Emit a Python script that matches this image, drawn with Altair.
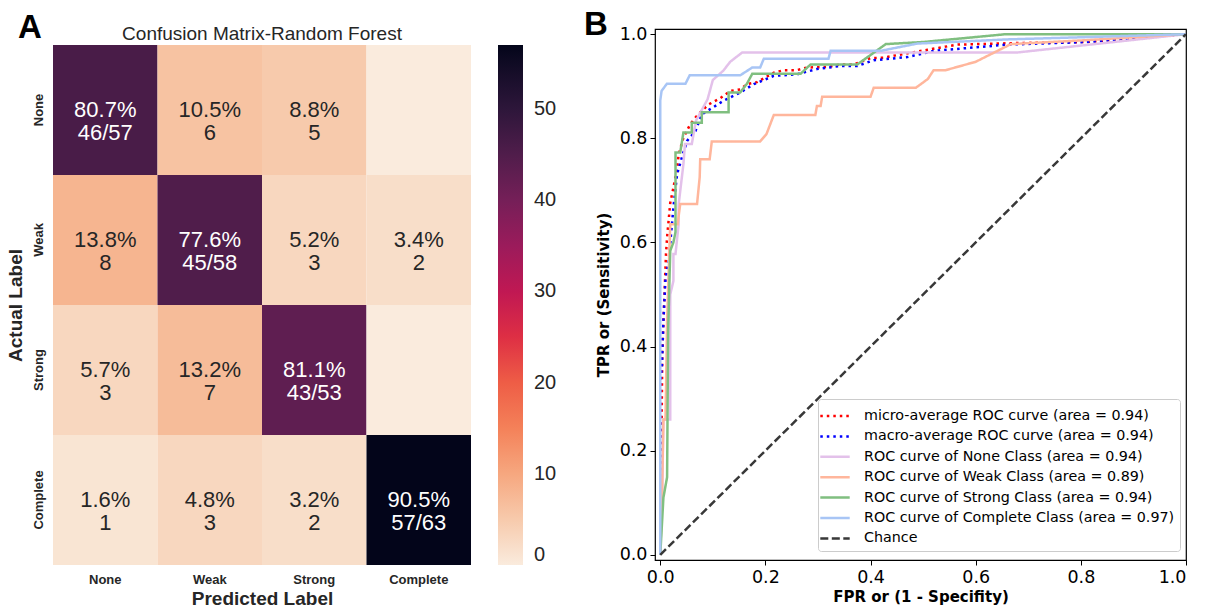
import altair as alt
import pandas as pd

# ---------------- Confusion matrix data ----------------
classes = ["None", "Weak", "Strong", "Complete"]
cm_counts = [
    [46, 6, 5, 0],
    [8, 45, 3, 2],
    [3, 7, 43, 0],
    [1, 3, 2, 57],
]
cbar_ticks = [0, 10, 20, 30, 40, 50]
rocket_r_colors = ["#faebdd", "#f7d0b5", "#f6b48f", "#f5966d", "#f37651", "#ee5a45",
                   "#e13342", "#cb1b4f", "#ad1759", "#8e1d5b", "#701f57", "#521d4c",
                   "#35193e", "#1b0f2e", "#03051a"]
cm_title = "Confusion Matrix-Random Forest"

# ---------------- ROC data ----------------
series_names = [
    "micro-average ROC curve (area = 0.94)",
    "macro-average ROC curve (area = 0.94)",
    "ROC curve of None Class (area = 0.94)",
    "ROC curve of Weak Class (area = 0.89)",
    "ROC curve of Strong Class (area = 0.94)",
    "ROC curve of Complete Class (area = 0.97)",
    "Chance",
]
series_colors = ["#ff0000", "#0000ff", "#e3c1ea", "#ffb69c", "#80bf80", "#a8c5f5", "#383838"]
series_dashes = [[2.5, 4], [2.5, 4], [1, 0], [1, 0], [1, 0], [1, 0], [8, 3.5]]

micro_fpr = [0, 0.002, 0.004, 0.008, 0.011, 0.013, 0.019, 0.025, 0.032, 0.035, 0.044, 0.057,
             0.067, 0.079, 0.092, 0.114, 0.133, 0.152, 0.165, 0.184, 0.216, 0.235, 0.26, 0.279,
             0.317, 0.343, 0.368, 0.4, 0.425, 0.463, 0.508, 0.565, 0.68, 0.81, 1.0]
micro_tpr = [0, 0.2, 0.39, 0.5, 0.58, 0.61, 0.676, 0.705, 0.743, 0.769, 0.801, 0.827,
             0.84, 0.853, 0.865, 0.877, 0.891, 0.894, 0.904, 0.908, 0.926, 0.931, 0.931, 0.936,
             0.937, 0.942, 0.942, 0.954, 0.955, 0.962, 0.97, 0.98, 0.983, 0.985, 1.0]

macro_fpr = [0, 0, 0.003, 0.006, 0.01, 0.016, 0.025, 0.032, 0.041, 0.051, 0.067, 0.079, 0.095,
             0.12, 0.152, 0.178, 0.216, 0.26, 0.298, 0.343, 0.375, 0.406, 0.47, 0.521, 0.66,
             0.81, 1.0]
macro_tpr = [0, 0.33, 0.36, 0.45, 0.53, 0.564, 0.667, 0.731, 0.763, 0.795, 0.814, 0.846, 0.856,
             0.872, 0.888, 0.904, 0.92, 0.923, 0.933, 0.939, 0.939, 0.95, 0.956, 0.968, 0.98,
             0.985, 1.0]

none_fpr = [0, 0.004, 0.006, 0.019, 0.019, 0.025, 0.025, 0.029, 0.035, 0.035, 0.044, 0.047,
            0.06, 0.068, 0.09, 0.1, 0.12, 0.133, 0.156, 0.68, 1.0]
none_tpr = [0, 0.13, 0.26, 0.26, 0.5, 0.526, 0.578, 0.578, 0.635, 0.673, 0.75, 0.789,
            0.789, 0.834, 0.875, 0.912, 0.93, 0.947, 0.965, 0.965, 1.0]

weak_fpr = [0, 0.003, 0.006, 0.01, 0.013, 0.019, 0.033, 0.038, 0.07, 0.075, 0.076, 0.094,
            0.098, 0.19, 0.202, 0.216, 0.295, 0.298, 0.305, 0.308, 0.4, 0.406, 0.486, 0.509,
            0.52, 0.543, 0.6, 0.667, 0.8, 1.0]
weak_tpr = [0, 0.1, 0.26, 0.26, 0.45, 0.635, 0.635, 0.674, 0.674, 0.725, 0.76, 0.76,
            0.794, 0.794, 0.808, 0.845, 0.845, 0.862, 0.862, 0.88, 0.88, 0.897, 0.897, 0.914,
            0.931, 0.931, 0.947, 0.981, 0.988, 1.0]

strong_fpr = [0, 0.006, 0.013, 0.015, 0.019, 0.025, 0.029, 0.029, 0.038, 0.044, 0.06, 0.06,
              0.079, 0.079, 0.13, 0.13, 0.152, 0.165, 0.175, 0.267, 0.286, 0.375, 0.429, 0.5,
              0.657, 1.0]
strong_tpr = [0, 0.11, 0.149, 0.43, 0.584, 0.6, 0.62, 0.773, 0.773, 0.811, 0.811, 0.83,
              0.83, 0.85, 0.85, 0.888, 0.888, 0.905, 0.924, 0.924, 0.942, 0.942, 0.981, 0.985,
              1.0, 1.0]

complete_fpr = [0, 0, 0.0025, 0.0127, 0.048, 0.056, 0.152, 0.175, 0.19, 0.197, 0.32, 0.324,
                0.419, 0.489, 0.66, 1.0]
complete_tpr = [0, 0.873, 0.891, 0.905, 0.905, 0.921, 0.921, 0.936, 0.936, 0.953, 0.953, 0.968,
                0.968, 0.982, 0.99, 1.0]

chance_fpr = [0, 1]
chance_tpr = [0, 1]

axis_ticks = [0, 0.2, 0.4, 0.6, 0.8, 1.0]

# ---------------- Build tables ----------------
rows = []
for i, actual in enumerate(classes):
    total = sum(cm_counts[i])
    for j, pred in enumerate(classes):
        c = cm_counts[i][j]
        if c == 0:
            label = ""
        else:
            second = f"{c}/{total}" if i == j else f"{c}"
            label = f"{100 * c / total:.1f}%\n{second}"
        rows.append(dict(actual=actual, pred=pred, count=c, label=label))
cm_df = pd.DataFrame(rows)
vmax = max(max(r) for r in cm_counts)
ncol = len(rocket_r_colors)
color_domain = [vmax * k / (ncol - 1) for k in range(ncol)]

curves = [(micro_fpr, micro_tpr), (macro_fpr, macro_tpr), (none_fpr, none_tpr),
          (weak_fpr, weak_tpr), (strong_fpr, strong_tpr), (complete_fpr, complete_tpr),
          (chance_fpr, chance_tpr)]
roc_rows = []
for name, (fx, ty) in zip(series_names, curves):
    for k, (a, b) in enumerate(zip(fx, ty)):
        roc_rows.append(dict(series=name, fpr=a, tpr=b, idx=k))
roc_df = pd.DataFrame(roc_rows)

# ---------------- Layout constants ----------------
HW, HH, HTOP = 418, 520, 16      # heatmap width, height, drop below the shared top
RW, RH = 531, 531                # ROC frame

# ---------------- Heatmap panel ----------------
SANS = "Liberation Sans"
TXT = "#262626"
base = alt.Chart(cm_df)
xenc = alt.X("pred:N", sort=classes, scale=alt.Scale(paddingInner=0, paddingOuter=0),
             axis=alt.Axis(title="Predicted Label", labelAngle=0, labelFont=SANS, labelFontSize=13,
                           labelFontWeight="bold", labelColor=TXT, ticks=False, domain=False,
                           labelPadding=8, titleFont=SANS, titleFontSize=19, titleFontWeight="bold",
                           titleColor=TXT, titlePadding=3))
yenc = alt.Y("actual:N", sort=classes,
             scale=alt.Scale(paddingInner=0, paddingOuter=0, range=[HTOP, HTOP + HH]),
             axis=alt.Axis(title="Actual Label", labelAngle=-90, labelAlign="center",
                           labelBaseline="bottom", labelFont=SANS, labelFontSize=13,
                           labelFontWeight="bold", labelColor=TXT, ticks=False, domain=False,
                           labelPadding=8, titleFont=SANS, titleFontSize=19, titleFontWeight="bold",
                           titleColor=TXT, titlePadding=7, titleY=HTOP + HH / 2))
rect = base.mark_rect().encode(
    x=xenc, y=yenc,
    color=alt.Color("count:Q", scale=alt.Scale(domain=color_domain, range=rocket_r_colors),
                    legend=alt.Legend(title=None, orient="none", legendX=HW + 27, legendY=HTOP,
                                      direction="vertical",
                                      gradientLength=HH, gradientThickness=25, values=cbar_ticks,
                                      labelFont=SANS, labelFontSize=20, labelColor=TXT,
                                      padding=0, labelOffset=11, gradientStrokeWidth=0,
                                      labelOverlap=False)),
)
annot = base.mark_text(font=SANS, fontSize=22, lineBreak="\n", lineHeight=23,
                       baseline="middle").encode(
    x=alt.X("pred:N", sort=classes), y=alt.Y("actual:N", sort=classes), text="label:N",
    color=alt.condition("datum.count > 30", alt.value("white"), alt.value(TXT)),
)
letterA = alt.Chart(pd.DataFrame({"panel": ["A"]})).mark_text(
    font=SANS, fontSize=33, fontWeight="bold", align="left", baseline="alphabetic", color="black"
).encode(text="panel:N", x=alt.value(-35), y=alt.value(HTOP - 7))
titleA = alt.Chart(pd.DataFrame({"t": [cm_title]})).mark_text(
    font=SANS, fontSize=19, align="center", baseline="alphabetic", color=TXT
).encode(text="t:N", x=alt.value(HW / 2), y=alt.value(HTOP - 5))

heat = alt.layer(rect, annot, letterA, titleA).properties(
    width=HW, height=HTOP + HH,
    view=alt.ViewBackground(stroke="transparent"),
)

# ---------------- ROC panel ----------------
DV = "DejaVu Sans"
roc_leg = alt.Legend(title=None, orient="none", legendX=163, legendY=370, fillColor="white",
                     strokeColor="#cccccc", cornerRadius=3, padding=5, labelFont=DV,
                     labelFontSize=14.3, labelColor="black", labelLimit=500,
                     symbolType="M-1.4,0H1.4", symbolStrokeWidth=2.5, symbolSize=441,
                     rowPadding=0.4, labelOffset=17)
lines = alt.Chart(roc_df).mark_line(strokeWidth=2.5, clip=True).encode(
    x=alt.X("fpr:Q", scale=alt.Scale(domain=[-0.01, 1.0], nice=False, zero=False),
            axis=alt.Axis(values=axis_ticks, format=".1f", title="FPR or (1 - Specifity)",
                          grid=False, domain=False, tickColor="black", tickSize=5,
                          labelFont=DV, labelFontSize=17.5, labelColor="black", labelPadding=3,
                          titleFont=DV, titleFontSize=15, titleFontWeight="bold",
                          titleColor="black", titlePadding=4)),
    y=alt.Y("tpr:Q", scale=alt.Scale(domain=[-0.01, 1.01], nice=False, zero=False),
            axis=alt.Axis(values=axis_ticks, format=".1f", title="TPR or (Sensitivity)",
                          grid=False, domain=False, tickColor="black", tickSize=5,
                          labelFont=DV, labelFontSize=17.5, labelColor="black", labelPadding=3,
                          titleFont=DV, titleFontSize=15, titleFontWeight="bold",
                          titleColor="black", titlePadding=8)),
    color=alt.Color("series:N", scale=alt.Scale(domain=series_names, range=series_colors),
                    legend=roc_leg),
    strokeDash=alt.StrokeDash("series:N", scale=alt.Scale(domain=series_names, range=series_dashes),
                              legend=roc_leg),
    order=alt.Order("idx:Q"),
)
letterB = alt.Chart(pd.DataFrame({"panel": ["B"]})).mark_text(
    font=SANS, fontSize=33, fontWeight="bold", align="left", baseline="alphabetic", color="black"
).encode(text="panel:N", x=alt.value(-71), y=alt.value(6))

roc = alt.layer(lines, letterB).properties(
    width=RW, height=RH,
    view=alt.ViewBackground(stroke="black", strokeWidth=1.2, fill="white"),
)

chart = alt.hconcat(heat, roc, spacing=25).resolve_scale(
    color="independent", strokeDash="independent"
).properties(
    padding={"left": 5, "top": 8, "right": 5, "bottom": 5}, background="white"
)

chart.save("out.html", embed_options={"renderer": "svg", "actions": False})
